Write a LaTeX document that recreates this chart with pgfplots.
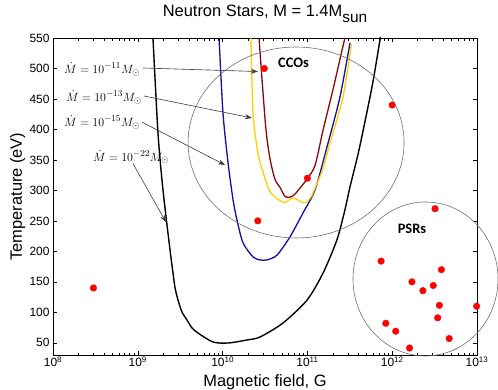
\documentclass[border=0pt]{standalone}
\usepackage{pgfplots}
\pgfplotsset{compat=1.18}
\usepackage{fontspec}
\setmainfont{Liberation Sans}
\newfontfamily\calibri{Carlito}
\usetikzlibrary{arrows.meta}
\definecolor{cDarkRed}{RGB}{135,8,8}
\definecolor{cGold}{RGB}{255,205,0}
\definecolor{cNavy}{RGB}{15,15,160}
\definecolor{cCirc}{RGB}{110,110,110}
\definecolor{cArr}{RGB}{60,60,60}
\begin{document}
\begin{tikzpicture}
\begin{axis}[
  scale only axis,
  width=424bp, height=317bp,
  xmode=log,
  xmin=1e8, xmax=1e13,
  ymin=30, ymax=550,
  clip=false,
  axis line style={black, line width=0.6bp},
  tick style={black, line width=0.5bp},
  major tick length=4bp,
  minor tick length=2.5bp,
  xtick={1e8,1e9,1e10,1e11,1e12,1e13},
  xticklabels={10\textsuperscript{8},10\textsuperscript{9},10\textsuperscript{10},10\textsuperscript{11},10\textsuperscript{12},10\textsuperscript{13}},
  ytick={50,100,150,200,250,300,350,400,450,500,550},
  /pgf/number format/assume math mode=true,
  xticklabel style={font=\fontsize{12}{14}\selectfont, yshift=2bp},
  yticklabel style={font=\fontsize{12}{14}\selectfont},
  title={Neutron Stars, M = 1.4M\raisebox{-6.5bp}{\fontsize{15.5}{16}\selectfont sun}},
  title style={font=\fontsize{16.5}{18}\selectfont, at={(axis description cs:0.5,1.0505)}, anchor=base},
  xlabel={Magnetic field, G},
  xlabel style={font=\fontsize{16.5}{18}\selectfont, at={(axis description cs:0.5,-0.1009)}, anchor=base},
  ylabel={Temperature (eV)},
  ylabel style={font=\fontsize{16.5}{18}\selectfont, at={(axis description cs:-0.0732,0.5)}, anchor=base},
]
\coordinate (SW) at (rel axis cs:0,0);
\coordinate (NE) at (rel axis cs:1,1);
\coordinate (C1) at (axis cs:7.35e10,378.6);
\coordinate (C2) at (axis cs:2.47e12,154.7);

% Mdot = 1e-22 (black)
\addplot[black, line width=1.4bp, smooth, tension=0.45] coordinates {
(1.51e9,550) (1.73e9,394) (1.98e9,301) (2.40e9,202) (2.60e9,164.5) (2.75e9,140) (2.98e9,120)
(3.32e9,100.5) (3.80e9,87.4) (4.36e9,74.3) (5.13e9,66) (7.71e9,51.3) (1.16e10,49.7) (1.94e10,54.6) (2.76e10,59.5)
(5.15e10,82.5) (9.89e10,120) (1.53e11,164.5) (2.23e11,219) (2.77e11,268) (3.18e11,306)
(3.98e11,361) (5.00e11,426.5) (5.98e11,481) (7.18e11,547) (7.24e11,550)
};
% Mdot = 1e-15 (blue)
\addplot[cNavy, line width=1.3bp, smooth, tension=0.45] coordinates {
(9.08e9,550) (1.01e10,427) (1.16e10,345) (1.33e10,284) (1.48e10,251) (1.74e10,214)
(2.28e10,191) (2.76e10,186) (3.34e10,186) (4.39e10,194) (6.24e10,224) (8.87e10,263)
(1.23e11,301) (1.70e11,371) (2.42e11,453) (3.18e11,542)
};
% Mdot = 1e-13 (gold)
\addplot[cGold, line width=1.3bp, smooth, tension=0.4] coordinates {
(2.16e10,550) (2.28e10,427) (2.61e10,361) (3.16e10,320) (3.62e10,298) (4.54e10,285)
(5.45e10,280) (6.31e10,286) (7.14e10,287) (8.18e10,282) (9.66e10,280) (1.12e11,291)
(1.35e11,317) (1.54e11,337) (1.85e11,378) (2.63e11,453) (3.30e11,540)
};
% Mdot = 1e-11 (dark red)
\addplot[cDarkRed, line width=1.3bp, smooth, tension=0.45] coordinates {
(2.69e10,550) (2.92e10,481) (3.25e10,399) (3.62e10,352) (4.15e10,318) (4.75e10,305)
(5.45e10,290) (6.24e10,289) (7.14e10,294) (9.82e10,318) (1.23e11,341) (1.53e11,399)
(2.00e11,465) (2.56e11,530) (2.77e11,550)
};
% observed sources
\addplot[only marks, mark=*, mark size=3.3bp, mark options={draw=red, fill=red}] coordinates {
(3e8,140) (3.1e10,500) (1e11,320) (2.6e10,250) (1e12,440)
(3.2e12,270) (7.4e11,184) (3.8e12,170) (1.71e12,150) (2.3e12,135.5) (3.05e12,144)
(3.6e12,111.5) (9.9e12,110) (3.44e12,91) (8.4e11,82) (1.1e12,69) (4.7e12,57) (1.6e12,41.5)
};

% annotations
\node[font=\fontsize{13}{15}\selectfont] at (axis cs:3.79e8,499) {$\dot{M} = 10^{-11} M_{\odot}$};
\node[font=\fontsize{13}{15}\selectfont] at (axis cs:3.99e8,453) {$\dot{M} = 10^{-13} M_{\odot}$};
\node[font=\fontsize{13}{15}\selectfont] at (axis cs:3.79e8,412) {$\dot{M} = 10^{-15} M_{\odot}$};
\node[font=\fontsize{13}{15}\selectfont] at (axis cs:8.32e8,355) {$\dot{M} = 10^{-22} M_{\odot}$};
\draw[cArr, line width=0.6bp, -{Stealth[length=7bp,width=5bp]}] (axis cs:1.15e9,500.8) -- (axis cs:2.61e10,495);
\draw[cArr, line width=0.6bp, -{Stealth[length=7bp,width=5bp]}] (axis cs:1.18e9,454.9) -- (axis cs:2.22e10,418.8);
\draw[cArr, line width=0.6bp, -{Stealth[length=7bp,width=5bp]}] (axis cs:1.12e9,412) -- (axis cs:1.07e10,341.7);
\draw[cArr, line width=0.6bp, -{Stealth[length=7bp,width=5bp]}] (axis cs:8.77e8,344) -- (axis cs:2.15e9,248);
\node[font=\calibri\bfseries\fontsize{14.5}{16}\selectfont] at (axis cs:6.86e10,509) {CCOs};
\node[font=\calibri\bfseries\fontsize{14.5}{16}\selectfont] at (axis cs:1.71e12,237) {PSRs};
\end{axis}
\draw[cCirc, line width=0.6bp] (C1) ellipse [x radius=108bp, y radius=95.5bp];
\draw[cCirc, line width=0.6bp] (C2) ellipse [x radius=72.5bp, y radius=77bp];
\pgfresetboundingbox
\path ([shift={(-53bp,-35bp)}]SW) rectangle ([shift={(21bp,38bp)}]NE);
\end{tikzpicture}
\end{document}
